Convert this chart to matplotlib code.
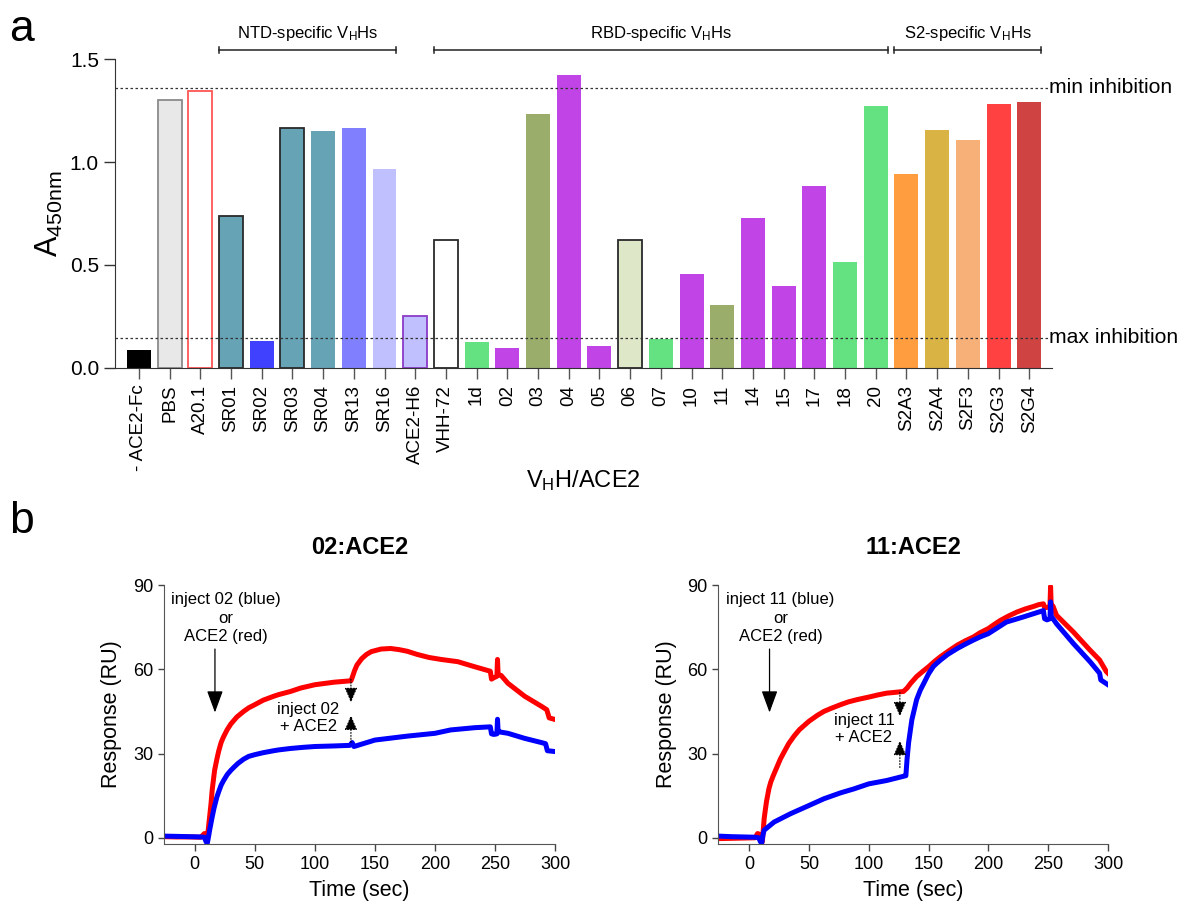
import numpy as np
import matplotlib.pyplot as plt

plt.rcParams['font.family'] = ['Liberation Sans', 'DejaVu Sans']
plt.rcParams['mathtext.default'] = 'regular'

# ---- panel a data ----
names = ['- ACE2-Fc', 'PBS', 'A20.1', 'SR01', 'SR02', 'SR03', 'SR04', 'SR13', 'SR16',
         'ACE2-H6', 'VHH-72', '1d', '02', '03', '04', '05', '06', '07', '10', '11',
         '14', '15', '17', '18', '20', 'S2A3', 'S2A4', 'S2F3', 'S2G3', 'S2G4']
a450 = [0.089, 1.30, 1.345, 0.736, 0.133, 1.167, 1.152, 1.167, 0.968, 0.254, 0.620,
        0.128, 0.099, 1.235, 1.424, 0.108, 0.623, 0.142, 0.458, 0.307, 0.730, 0.400,
        0.885, 0.516, 1.273, 0.943, 1.157, 1.108, 1.283, 1.293]
bar_colors = ['#000000', '#e8e8e8', '#ffffff', '#66a3b5', '#4040ff', '#66a3b5', '#66a3b5',
              '#8080ff', '#c0c0ff', '#c0c0ff', '#ffffff', '#64e282', '#c145e6', '#9aad6b',
              '#c145e6', '#c145e6', '#dfe7c9', '#64e282', '#c145e6', '#9aad6b', '#c145e6',
              '#c145e6', '#c145e6', '#64e282', '#64e282', '#ff9d3f', '#d9b343', '#f7b077',
              '#ff4141', '#cf4343']
edge_colors = ['none', '#8a8a8a', '#ff5555', '#2a2a2a', 'none', '#2a2a2a', 'none', 'none',
               'none', '#8a3cc8', '#2a2a2a', 'none', 'none', 'none', 'none', 'none',
               '#2a2a2a', 'none', 'none', 'none', 'none', 'none', 'none', 'none', 'none',
               'none', 'none', 'none', 'none', 'none']
min_inhibition = 1.36
max_inhibition = 0.146
groups = [('NTD-specific V$_H$Hs', 3, 8), ('RBD-specific V$_H$Hs', 10, 24),
          ('S2-specific V$_H$Hs', 25, 29)]

# ---- panel b data ----
t02_red = [-26, -15, -5, 5, 8, 9, 10, 11, 12, 13.5, 14.5, 16.5, 18.4, 20, 22, 24, 27, 30,
           35, 40.7, 45, 50, 57, 65.7, 70, 79.7, 88, 100, 116, 130, 131, 133, 135, 139, 143,
           147, 155, 163, 170, 177, 185, 195, 205, 219, 233, 246, 247, 249, 251.5, 252,
           252.5, 255, 260.7, 274.6, 288.6, 293, 295, 300]
r02_red = [0.4, 0.3, 0.3, 0.2, 1.5, 0.5, -1.5, 2, 6, 12, 17, 24, 28, 31, 34, 36, 38.5, 40.5,
           43, 45, 46.3, 47.4, 49, 50.4, 51, 52.1, 53.3, 54.5, 55.4, 55.9, 57, 59.5, 61.5,
           63.8, 65.3, 66.3, 67.2, 67.4, 67.0, 66.4, 65.3, 64.2, 63.5, 62.7, 60.9, 59.3,
           56.5, 57.0, 57.5, 63.5, 58.0, 57.8, 55, 50.4, 46.8, 45.6, 42.7, 42.1]
t02_blue = [-26, -15, -5, 5, 8, 9.5, 10.5, 11.5, 12.5, 14.2, 16, 18.4, 20, 22, 24, 27, 30,
            32.3, 36, 40.7, 45, 50, 57, 65.7, 70, 79.7, 90, 100, 116, 129, 131, 132.5, 150,
            177, 200, 213, 233, 246, 247, 249, 251.5, 252, 252.5, 255, 260.7, 274.6, 288.6,
            292, 293.5, 300]
r02_blue = [0.6, 0.5, 0.4, 0.3, 0.2, -1.5, -1.8, 0.5, 3, 6.8, 10.5, 14.5, 16.5, 18.8, 20.4,
            22.5, 24, 25, 26.5, 28, 29, 29.6, 30.3, 31, 31.3, 31.8, 32.2, 32.5, 32.7, 32.9,
            33.9, 32.5, 34.8, 36.2, 37.2, 38.4, 39.2, 39.5, 37, 36.8, 37, 42.2, 37.8, 37.6,
            37.2, 35.4, 33.9, 33.5, 31, 30.7]

t11_red = [-26, -15, -5, 5, 7, 9, 11, 12.5, 13.5, 14.5, 16.5, 18, 20, 23.6, 26, 29, 33,
           37.5, 42, 50, 57, 62.5, 68, 76.4, 83, 90.3, 100, 108, 115, 120, 129, 132, 135,
           140, 145, 150, 155, 160, 167, 174, 181, 187.5, 193, 200, 205, 210, 217, 224, 231,
           238, 242, 246, 247, 249, 251.5, 252, 252.5, 254, 257, 271, 285, 293, 298.6, 300]
r11_red = [-0.3, -0.2, -0.1, 0, 1.5, 1.2, -1.4, 6.8, 10, 13, 17.5, 19.8, 22, 25.6, 28, 30.4,
           33.5, 36.2, 38.5, 41.5, 43.6, 45, 46, 47.4, 48.4, 49.2, 50.1, 50.9, 51.5, 51.7,
           52.1, 53.3, 55, 57.4, 59.2, 60.9, 62.8, 64.5, 66.6, 68.6, 70.2, 71.5, 73, 74.5,
           76, 77.4, 79, 80.4, 81.5, 82.4, 83, 83.3, 82, 82, 82.5, 89.5, 83, 82.5, 79.2,
           73.3, 66.8, 63.3, 59.2, 58.6]
t11_blue = [-26, -15, -5, 5, 8, 9.5, 10.5, 11.5, 12.5, 20.8, 34.7, 50, 62.5, 76.4, 87.5, 100,
            115, 129, 131, 132, 133.3, 136, 140, 143, 146, 150, 154, 157, 160, 166, 174, 181,
            187.5, 193, 200, 215, 229, 246, 247, 249, 251.5, 252, 252.5, 253, 257, 271, 285,
            293, 294, 300]
r11_blue = [0.6, 0.4, 0.3, 0.2, 0, -1.5, -1.8, 1, 2.7, 5.6, 8.6, 11.5, 13.9, 16, 17.4, 19.2,
            20.4, 21.9, 22.1, 28, 33.9, 42, 49.2, 52.5, 55, 58.4, 61, 62.2, 63.3, 65.3, 67.4,
            69.0, 70.4, 71.5, 72.7, 76.8, 78.6, 80.9, 78, 77.6, 78, 84, 79, 78.6, 76.2, 69.2,
            62.7, 58.6, 56.2, 54.5]

fig = plt.figure(figsize=(11.85, 9.07), dpi=100)

# ================= panel a =================
ax = fig.add_axes([0.097, 0.5943, 0.791, 0.3406])
x = np.arange(len(names))
ax.bar(x, a450, width=0.78, color=bar_colors, edgecolor=edge_colors, linewidth=1.3, zorder=2)
ax.set_xlim(-0.78, 29.75)
ax.set_ylim(0, 1.5)
ax.set_yticks([0, 0.5, 1.0, 1.5])
ax.set_yticklabels(['0.0', '0.5', '1.0', '1.5'])
ax.set_xticks(x)
ax.set_xticklabels(names, rotation=90, fontsize=13.5)
ax.tick_params(axis='y', labelsize=15, length=8, width=1, color='#333333')
ax.tick_params(axis='x', length=8, width=1, color='#555555', pad=4)
for s in ['top', 'right']:
    ax.spines[s].set_visible(False)
ax.spines['left'].set_color('#333333')
ax.spines['bottom'].set_color('#333333')

for yv, lab in [(min_inhibition, 'min inhibition'), (max_inhibition, 'max inhibition')]:
    ax.plot([-0.78, 29.6], [yv, yv], ls=(0, (2, 2)), lw=0.9, color='#333333', zorder=3,
            clip_on=False)
    ax.text(29.65, yv, lab, fontsize=15.2, va='center', ha='left')

for lab, i0, i1 in groups:
    x0, x1 = i0 - 0.39, i1 + 0.39
    ax.plot([x0, x1], [1.545, 1.545], color='#222222', lw=1.1, clip_on=False)
    ax.plot([x0, x0], [1.53, 1.56], color='#222222', lw=1.1, clip_on=False)
    ax.plot([x1, x1], [1.53, 1.56], color='#222222', lw=1.1, clip_on=False)
    ax.text((x0 + x1) / 2, 1.58, lab, fontsize=12, ha='center', va='bottom')

ax.set_ylabel('A$_{450nm}$', fontsize=22)
ax.yaxis.set_label_coords(-0.053, 0.5)
ax.set_xlabel('V$_H$H/ACE2', fontsize=17)
ax.xaxis.set_label_coords(0.5, -0.325)

fig.text(0.008, 0.955, 'a', fontsize=32)
fig.text(0.008, 0.412, 'b', fontsize=32)

# ================= panel b =================
panels = [
    ([0.138, 0.0695, 0.3305, 0.2855], '02:ACE2', t02_red, r02_red, t02_blue, r02_blue,
     'inject 02 (blue)\nor\nACE2 (red)', 26, 16.8, 'inject 02\n+ ACE2', 94.5, 130,
     (56.5, 48.2), (34.0, 43.6)),
    ([0.606, 0.0695, 0.329, 0.2855], '11:ACE2', t11_red, r11_red, t11_blue, r11_blue,
     'inject 11 (blue)\nor\nACE2 (red)', 26.2, 17, 'inject 11\n+ ACE2', 96, 126,
     (51.8, 43.2), (25.0, 34.6)),
]
for (pos, title, tr, rr, tb, rb, txt1, tx1, ax1x, txt2, tx2, ax2x, dn, up) in panels:
    bx = fig.add_axes(pos)
    bx.plot(tr, rr, color='#ff0000', lw=3.6, solid_joinstyle='round')
    bx.plot(tb, rb, color='#0000ff', lw=3.6, solid_joinstyle='round')
    bx.set_xlim(-26, 300)
    bx.set_ylim(-2.2, 90)
    bx.set_xticks([0, 50, 100, 150, 200, 250, 300])
    bx.set_yticks([0, 30, 60, 90])
    bx.tick_params(axis='both', labelsize=13, width=1, color='#444444')
    bx.tick_params(axis='y', length=4)
    bx.tick_params(axis='x', length=5)
    for s in ['top', 'right']:
        bx.spines[s].set_visible(False)
    bx.spines['left'].set_color('#555555')
    bx.spines['bottom'].set_color('#555555')
    bx.set_title(title, fontsize=17, fontweight='bold', pad=22)
    bx.set_xlabel('Time (sec)', fontsize=15.5)
    bx.xaxis.set_label_coords(0.5, -0.14)
    bx.set_ylabel('Response (RU)', fontsize=15.5)
    bx.yaxis.set_label_coords(-0.105, 0.5)

    bx.text(tx1, 87.5, txt1, fontsize=12, ha='center', va='top', linespacing=1.3)
    bx.annotate('', xy=(ax1x, 44.6), xytext=(ax1x, 67.2),
                arrowprops=dict(arrowstyle='-|>,head_length=0.9,head_width=0.33',
                                color='black', lw=0.9, mutation_scale=15,
                                shrinkA=0, shrinkB=0))
    bx.text(tx2, 48.5 if title.startswith('02') else 44.5, txt2, fontsize=12,
            ha='center', va='top', linespacing=1.2)
    bx.annotate('', xy=(ax2x, dn[1]), xytext=(ax2x, dn[0]),
                arrowprops=dict(arrowstyle='-|>,head_length=0.7,head_width=0.3',
                                color='black', lw=0.8, ls=':', mutation_scale=13,
                                shrinkA=0, shrinkB=0))
    bx.annotate('', xy=(ax2x, up[1]), xytext=(ax2x, up[0]),
                arrowprops=dict(arrowstyle='-|>,head_length=0.7,head_width=0.3',
                                color='black', lw=0.8, ls=':', mutation_scale=13,
                                shrinkA=0, shrinkB=0))

fig.savefig('out.png', dpi=100)
